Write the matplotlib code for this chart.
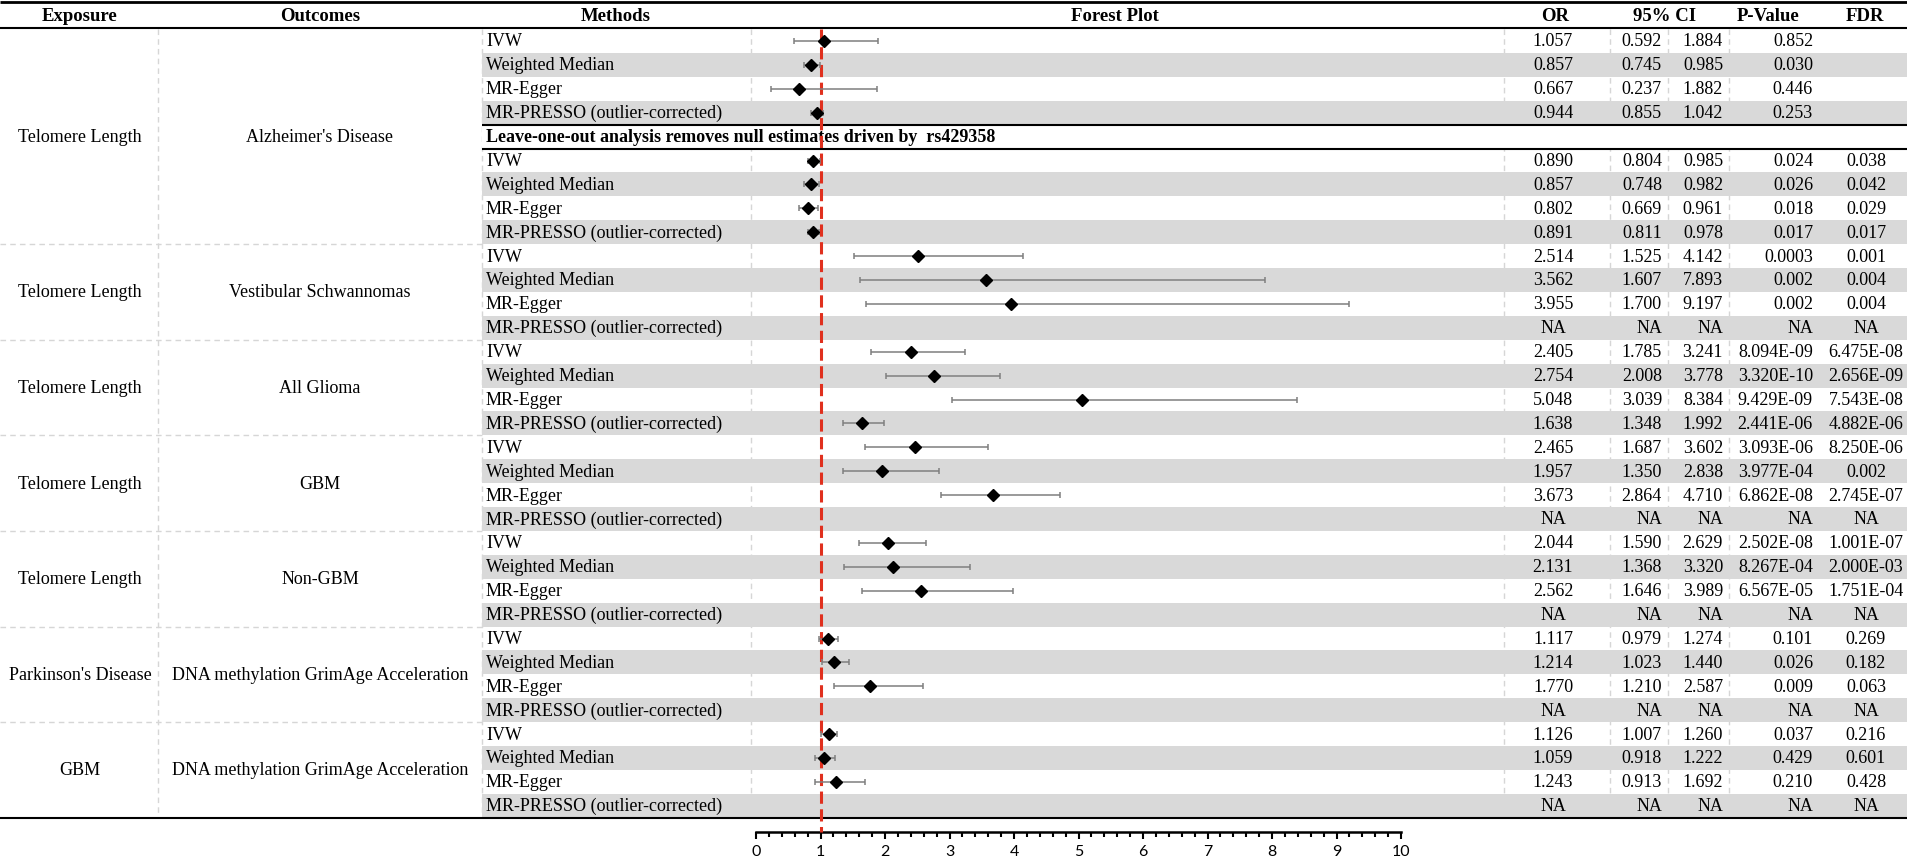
import numpy as np
import matplotlib
matplotlib.use("Agg")
import matplotlib.pyplot as plt
from matplotlib.patches import Rectangle
from matplotlib.ticker import MultipleLocator

# ── Data ──────────────────────────────────────────────────────────────────────

exposures = ["Telomere Length", "Telomere Length", "Telomere Length", "Telomere Length",
             "Telomere Length", "Parkinson's Disease", "GBM"]
outcomes = ["Alzheimer's Disease", "Vestibular Schwannomas", "All Glioma", "GBM", "Non-GBM",
            "DNA methylation GrimAge Acceleration", "DNA methylation GrimAge Acceleration"]
group_sizes = [8, 4, 4, 4, 4, 4, 4]
methods = ["IVW", "Weighted Median", "MR-Egger", "MR-PRESSO (outlier-corrected)"]
subheader = "Leave-one-out analysis removes null estimates driven by  rs429358"

NA = np.nan
or_vals = [1.057, 0.857, 0.667, 0.944,
           0.890, 0.857, 0.802, 0.891,
           2.514, 3.562, 3.955, NA,
           2.405, 2.754, 5.048, 1.638,
           2.465, 1.957, 3.673, NA,
           2.044, 2.131, 2.562, NA,
           1.117, 1.214, 1.770, NA,
           1.126, 1.059, 1.243, NA]
ci_low = [0.592, 0.745, 0.237, 0.855,
          0.804, 0.748, 0.669, 0.811,
          1.525, 1.607, 1.700, NA,
          1.785, 2.008, 3.039, 1.348,
          1.687, 1.350, 2.864, NA,
          1.590, 1.368, 1.646, NA,
          0.979, 1.023, 1.210, NA,
          1.007, 0.918, 0.913, NA]
ci_high = [1.884, 0.985, 1.882, 1.042,
           0.985, 0.982, 0.961, 0.978,
           4.142, 7.893, 9.197, NA,
           3.241, 3.778, 8.384, 1.992,
           3.602, 2.838, 4.710, NA,
           2.629, 3.320, 3.989, NA,
           1.274, 1.440, 2.587, NA,
           1.260, 1.222, 1.692, NA]
p_vals = ["0.852", "0.030", "0.446", "0.253",
          "0.024", "0.026", "0.018", "0.017",
          "0.0003", "0.002", "0.002", "NA",
          "8.094E-09", "3.320E-10", "9.429E-09", "2.441E-06",
          "3.093E-06", "3.977E-04", "6.862E-08", "NA",
          "2.502E-08", "8.267E-04", "6.567E-05", "NA",
          "0.101", "0.026", "0.009", "NA",
          "0.037", "0.429", "0.210", "NA"]
fdr_vals = ["", "", "", "",
            "0.038", "0.042", "0.029", "0.017",
            "0.001", "0.004", "0.004", "NA",
            "6.475E-08", "2.656E-09", "7.543E-08", "4.882E-06",
            "8.250E-06", "0.002", "2.745E-07", "NA",
            "1.001E-07", "2.000E-03", "1.751E-04", "NA",
            "0.269", "0.182", "0.063", "NA",
            "0.216", "0.601", "0.428", "NA"]

# ── Layout (pixel units of the 1907 x 862 canvas) ─────────────────────────────

W, H = 1907, 862
R0, DR = 42.0, 23.9            # first row centre, row height
X_OUT, X_METH, X_FOREST = 158, 482, 751
X_OR_L, X_CI_M, X_CI_R, X_P_L = 1504, 1610, 1668, 1729
AX_Y = 833                     # forest axis line
GRAY = "#d9d9d9"
DASH = "#d6d6d6"
SERIF = "Liberation Serif"
FS = 13


def fmt(v):
    return "NA" if np.isnan(v) else f"{v:.3f}"


def main():
    n = len(or_vals)
    row_idx = [i if i < 4 else i + 1 for i in range(n)]   # subheader sits in row 4
    ys = [R0 + k * DR for k in row_idx]
    n_rows = n + 1
    y_top = R0 - DR / 2
    y_bot = R0 + (n_rows - 0.5) * DR

    fig = plt.figure(figsize=(W / 100, H / 100), dpi=100)
    tab = fig.add_axes([0, 0, 1, 1])
    tab.set_xlim(0, W)
    tab.set_ylim(H, 0)
    tab.axis("off")

    # header and outer rules
    tab.hlines(3, 0, W, color="black", lw=2)
    tab.hlines(y_top - 1, 0, W, color="black", lw=1.5)
    tab.hlines(y_bot, 0, W, color="black", lw=1.5)
    hy = (3 + y_top) / 2
    headers = [(80, "Exposure"), (320, "Outcomes"), (616, "Methods"), (1115, "Forest Plot"),
               (1555, "OR"), (1665, "95% CI"), (1768, "P-Value"), (1865, "FDR")]
    for x, t in headers:
        tab.text(x, hy, t, ha="center", va="center", family=SERIF, fontsize=FS + 0.5,
                 fontweight="bold")

    # dashed column separators
    for x in [X_OUT, X_METH, X_FOREST, X_OR_L, X_CI_M, X_CI_R, X_P_L]:
        tab.vlines(x, y_top, y_bot, color=DASH, lw=1, linestyles=(0, (4, 3)), zorder=0.5)

    # shaded rows
    for i, y in enumerate(ys):
        if i % 4 in (1, 3):
            tab.add_patch(Rectangle((X_METH, y - DR / 2), W - X_METH, DR,
                                    color=GRAY, lw=0, zorder=1))

    # subheader row
    ys_sub = R0 + 4 * DR
    tab.add_patch(Rectangle((X_METH, ys_sub - DR / 2), W - X_METH, DR,
                            color="white", lw=0, zorder=1))
    tab.hlines([ys_sub - DR / 2, ys_sub + DR / 2], X_METH, W, color="black", lw=1.5, zorder=3)
    tab.text(X_METH + 4, ys_sub, subheader, ha="left", va="center", family=SERIF,
             fontsize=FS, fontweight="bold", zorder=4)

    # group labels and separators
    start = 0
    for g, size in enumerate(group_sizes):
        k0 = row_idx[start]
        k1 = row_idx[start + size - 1]
        yc = R0 + (k0 + k1) / 2 * DR
        tab.text(80, yc, exposures[g], ha="center", va="center", family=SERIF, fontsize=FS)
        tab.text(320, yc, outcomes[g], ha="center", va="center", family=SERIF, fontsize=FS)
        if g > 0:
            tab.hlines(R0 + (k0 - 0.5) * DR, 0, X_METH, color=DASH, lw=1,
                       linestyles=(0, (4, 3)))
        start += size

    # row text
    for i, y in enumerate(ys):
        kw = dict(va="center", family=SERIF, fontsize=FS, zorder=4)
        tab.text(X_METH + 4, y, methods[i % 4], ha="left", **kw)
        tab.text(1553, y, fmt(or_vals[i]), ha="center", **kw)
        tab.text(1662, y, fmt(ci_low[i]), ha="right", **kw)
        tab.text(1723, y, fmt(ci_high[i]), ha="right", **kw)
        tab.text(1813, y, p_vals[i], ha="right", **kw)
        tab.text(1866, y, fdr_vals[i], ha="center", **kw)

    # ── forest plot ──
    fax = fig.add_axes([756 / W, 0, 645 / W, 1])
    fax.set_xlim(0, 10)
    fax.set_ylim(H, 0)
    fax.patch.set_alpha(0)
    orv = np.array(or_vals)
    lo = np.array(ci_low)
    hi = np.array(ci_high)
    yv = np.array(ys)
    ok = ~np.isnan(orv)
    fax.errorbar(orv[ok], yv[ok], xerr=[orv[ok] - lo[ok], hi[ok] - orv[ok]],
                 fmt="D", color="black", ms=6.3, ecolor="#7f7f7f", elinewidth=1.1,
                 capsize=2.2, capthick=1.1, zorder=5)
    fax.vlines(1, y_top, AX_Y, color="#e0301e", lw=2.2, linestyles=(0, (4, 1.8)), zorder=4)

    for s in ["top", "left", "right"]:
        fax.spines[s].set_visible(False)
    fax.spines["bottom"].set_position(("data", AX_Y))
    fax.spines["bottom"].set_linewidth(1.8)
    fax.set_yticks([])
    fax.set_xticks(range(11))
    fax.xaxis.set_minor_locator(MultipleLocator(0.2))
    fax.tick_params(axis="x", which="major", length=5, width=1.5, pad=4, labelsize=11.5)
    fax.tick_params(axis="x", which="minor", length=3.5, width=1.5)
    for lab in fax.get_xticklabels():
        lab.set_family("Lato")

    fig.savefig("out.png", dpi=100)
    plt.close(fig)


if __name__ == "__main__":
    main()
